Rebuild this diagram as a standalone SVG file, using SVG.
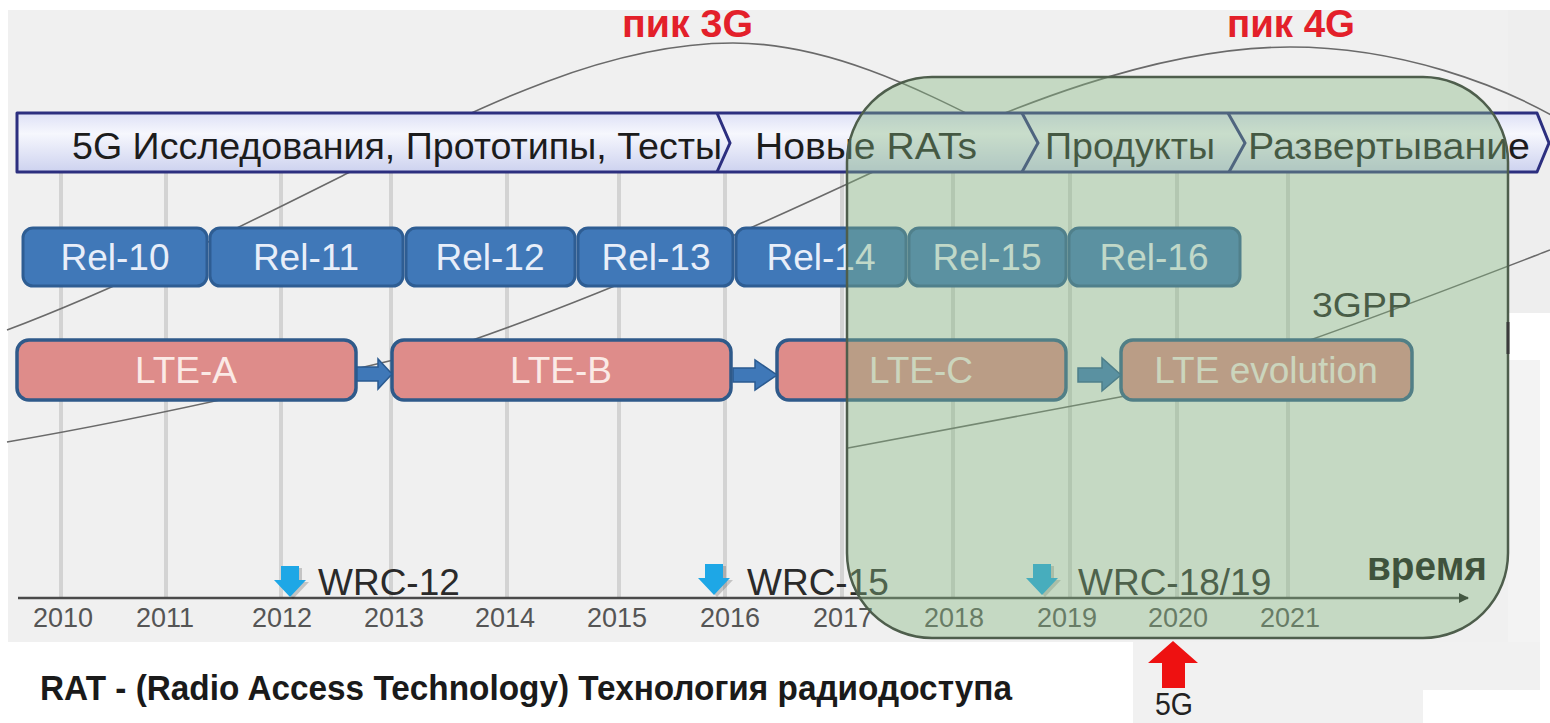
<svg xmlns="http://www.w3.org/2000/svg" width="1550" height="723" viewBox="0 0 1550 723">
  <defs>
    <linearGradient id="bannerFill" x1="0" y1="0" x2="0" y2="1">
      <stop offset="0" stop-color="#dde0f6"/>
      <stop offset="0.35" stop-color="#f6f7fd"/>
      <stop offset="1" stop-color="#cdd2ef"/>
    </linearGradient>
    <marker id="axisHead" markerWidth="10" markerHeight="10" refX="9" refY="5" orient="auto" markerUnits="userSpaceOnUse">
      <path d="M0,0 L10,5 L0,10 Z" fill="#1a1a1a"/>
    </marker>
  </defs>
  <style>
    .grid { stroke: #d3d3d3; stroke-width: 4; }
    .curve { fill: none; stroke: #6a6a6a; stroke-width: 1.6; }
    .rel rect { fill: #4078b8; stroke: #2e5d93; stroke-width: 3; }
    .rel text { font-family: "Liberation Sans", Arial, sans-serif; font-size: 37px; fill: #e8eef9; text-anchor: middle; }
    .lte rect { fill: #de8c8a; stroke: #2f5a8a; stroke-width: 3.5; }
    .lte text { font-family: "Liberation Sans", Arial, sans-serif; font-size: 37px; fill: #fbeae6; text-anchor: middle; }
    .block { fill: #3f78b8; stroke: #2a5a90; stroke-width: 1.5; }
    .phase { font-family: "Liberation Sans", Arial, sans-serif; font-size: 37px; fill: #1c1c1c; }
    .year { font-family: "Liberation Sans", Arial, sans-serif; font-size: 27px; fill: #555555; text-anchor: middle; }
    .wrc { font-family: "Liberation Sans", Arial, sans-serif; font-size: 37px; fill: #2a2a2a; }
    .peak { font-family: "Liberation Sans", Arial, sans-serif; font-size: 39px; font-weight: bold; fill: #e3202a; }
    .down { fill: #1ea7e6; }
    .shadow { fill: #000000; opacity: 0.18; }
  </style>

  <!-- canvas -->
  <rect x="0" y="0" width="1550" height="723" fill="#ffffff"/>
  <rect x="8" y="10" width="1500" height="632" fill="#f0f0f0"/>
  <rect x="1508" y="10" width="42" height="303" fill="#eeeeee"/>
  <rect x="1508" y="360" width="32" height="330" fill="#f3f3f3"/>
  <rect x="1133" y="642" width="407" height="48" fill="#f1f1f1"/>
  <rect x="1133" y="690" width="290" height="33" fill="#f1f1f1"/>

  <!-- year grid -->
  <g id="grid">
    <line class="grid" x1="61" y1="172" x2="61" y2="598"/>
    <line class="grid" x1="166" y1="172" x2="166" y2="598"/>
    <line class="grid" x1="281" y1="172" x2="281" y2="598"/>
    <line class="grid" x1="391" y1="172" x2="391" y2="598"/>
    <line class="grid" x1="507" y1="172" x2="507" y2="598"/>
    <line class="grid" x1="619" y1="172" x2="619" y2="598"/>
    <line class="grid" x1="725" y1="172" x2="725" y2="598"/>
    <line class="grid" x1="842" y1="172" x2="842" y2="598"/>
    <line class="grid" x1="953" y1="172" x2="953" y2="598"/>
    <line class="grid" x1="1070" y1="172" x2="1070" y2="598"/>
    <line class="grid" x1="1177" y1="172" x2="1177" y2="598"/>
    <line class="grid" x1="1288" y1="172" x2="1288" y2="598"/>
  </g>

  <!-- generation life-cycle curves -->
  <g id="curves">
    <path class="curve" d="M7,330 C121,287 236,229 350,172 C478,108 605,43 733,43 C833,43 930,95 1000,130"/>
    <path class="curve" d="M7,442 C160,416 330,376 467,342 C600,296 745,232 873,172 C1010,105 1160,47 1290,47 C1400,47 1500,85 1560,120"/>
    <path class="curve" d="M848,448 C950,428 1050,410 1120,397 C1220,378 1420,300 1550,250"/>
  </g>

  <!-- phase banner -->
  <g id="banner">
    <path d="M17,113 H1537 L1549,143 L1537,172 H17 Z" fill="url(#bannerFill)" stroke="#2c2f7f" stroke-width="3" stroke-linejoin="round"/>
    <path d="M717,113 L730,143 L717,172 M1022,113 L1038,143 L1022,172 M1228,113 L1245,143 L1229,172" fill="none" stroke="#2c2f7f" stroke-width="3"/>
    <text class="phase" x="72" y="159" textLength="650" lengthAdjust="spacingAndGlyphs">5G Исследования, Прототипы, Тесты</text>
    <text class="phase" x="755" y="159" textLength="222" lengthAdjust="spacingAndGlyphs">Новые RATs</text>
    <text class="phase" x="1045" y="159" textLength="170" lengthAdjust="spacingAndGlyphs">Продукты</text>
    <text class="phase" x="1248" y="159" textLength="282" lengthAdjust="spacingAndGlyphs">Развертывание</text>
  </g>

  <!-- 3GPP releases -->
  <g id="rel-10" class="rel"><rect x="23" y="228" width="184" height="58" rx="10"/><text x="115" y="270">Rel-10</text></g>
  <g id="rel-11" class="rel"><rect x="210" y="228" width="193" height="58" rx="10"/><text x="306" y="270">Rel-11</text></g>
  <g id="rel-12" class="rel"><rect x="406" y="228" width="169" height="58" rx="10"/><text x="490" y="270">Rel-12</text></g>
  <g id="rel-13" class="rel"><rect x="578" y="228" width="155" height="58" rx="10"/><text x="656" y="270">Rel-13</text></g>
  <g id="rel-14" class="rel"><rect x="736" y="228" width="170" height="58" rx="10"/><text x="821" y="270">Rel-14</text></g>
  <g id="rel-15" class="rel"><rect x="909" y="228" width="157" height="58" rx="10"/><text x="987" y="270">Rel-15</text></g>
  <g id="rel-16" class="rel"><rect x="1069" y="228" width="171" height="58" rx="10"/><text x="1154" y="270">Rel-16</text></g>

  <text id="label-3gpp" x="1312" y="317" font-family="Liberation Sans, Arial, sans-serif" font-size="35" fill="#222222" textLength="100" lengthAdjust="spacingAndGlyphs">3GPP</text>

  <!-- LTE stages -->
  <g id="lte-a" class="lte"><rect x="17" y="340" width="339" height="60" rx="12"/><text x="186" y="383">LTE-A</text></g>
  <g id="lte-b" class="lte"><rect x="392" y="340" width="339" height="60" rx="12"/><text x="561" y="383">LTE-B</text></g>
  <g id="lte-c" class="lte"><rect x="777" y="340" width="289" height="60" rx="12"/><text x="921" y="383">LTE-C</text></g>
  <g id="lte-evolution" class="lte"><rect x="1121" y="340" width="291" height="60" rx="12"/><text x="1266" y="383">LTE evolution</text></g>

  <!-- transitions between LTE stages -->
  <g id="connectors">
    <path class="block" d="M357,367 H378 V359 L392,374 L378,389 V381 H357 Z"/>
    <path class="block" d="M733,368 H755 V360 L777,375 L755,390 V382 H733 Z"/>
    <path class="block" d="M1078,368 H1102 V358 L1121,375 L1102,391 V382 H1078 Z"/>
  </g>

  <!-- time axis -->
  <g id="axis">
    <line x1="18" y1="598" x2="1468" y2="598" stroke="#4a4a4a" stroke-width="2.5" marker-end="url(#axisHead)"/>
    <text class="year" x="63" y="627">2010</text>
    <text class="year" x="165" y="627">2011</text>
    <text class="year" x="282" y="627">2012</text>
    <text class="year" x="394" y="627">2013</text>
    <text class="year" x="505" y="627">2014</text>
    <text class="year" x="617" y="627">2015</text>
    <text class="year" x="730" y="627">2016</text>
    <text class="year" x="843" y="627">2017</text>
    <text class="year" x="954" y="627">2018</text>
    <text class="year" x="1067" y="627">2019</text>
    <text class="year" x="1178" y="627">2020</text>
    <text class="year" x="1290" y="627">2021</text>
    <text x="1367" y="580" font-family="Liberation Sans, Arial, sans-serif" font-size="40" font-weight="bold" fill="#111111" textLength="120" lengthAdjust="spacingAndGlyphs">время</text>
  </g>

  <!-- WRC conferences -->
  <g id="wrc-12">
    <path class="shadow" d="M284,568 H302 V582 H309 L293,599 L277,582 H284 Z"/>
    <path class="down" d="M281,566 H299 V580 H306 L290,597 L274,580 H281 Z"/>
    <text class="wrc" x="318" y="595">WRC-12</text>
  </g>
  <g id="wrc-15">
    <path class="shadow" d="M708,566 H726 V580 H733 L717,597 L701,580 H708 Z"/>
    <path class="down" d="M705,564 H723 V578 H730 L714,595 L698,578 H705 Z"/>
    <text class="wrc" x="747" y="595">WRC-15</text>
  </g>
  <g id="wrc-18-19">
    <path class="shadow" d="M1036,566 H1054 V580 H1061 L1045,597 L1029,580 H1036 Z"/>
    <path class="down" d="M1033,564 H1051 V578 H1058 L1042,595 L1026,578 H1033 Z"/>
    <text class="wrc" x="1078" y="595">WRC-18/19</text>
  </g>

  <!-- generation peaks -->
  <text id="peak-3g" class="peak" x="622" y="37" textLength="131" lengthAdjust="spacingAndGlyphs">пик 3G</text>
  <text id="peak-4g" class="peak" x="1227" y="37" textLength="128" lengthAdjust="spacingAndGlyphs">пик 4G</text>

  <!-- 5G window -->
  <g id="window-5g">
    <rect x="847" y="77" width="661" height="561" rx="85" ry="85" fill="#85b780" fill-opacity="0.4" stroke="#4e5e4c" stroke-width="2.5"/>
    <line x1="1508" y1="322" x2="1508" y2="354" stroke="#3a3a3a" stroke-width="3"/>
  </g>

  <!-- 5G launch marker -->
  <g id="launch-5g">
    <path d="M1162,688 V663 H1148 L1173,641 L1198,663 H1185 V688 Z" fill="#ee1111"/>
    <text x="1155" y="715" font-family="Liberation Sans, Arial, sans-serif" font-size="32" fill="#222222" textLength="38" lengthAdjust="spacingAndGlyphs">5G</text>
  </g>

  <!-- footnote -->
  <text id="footnote" x="40" y="700" font-family="Liberation Sans, Arial, sans-serif" font-size="35" font-weight="bold" fill="#1a1a1a" textLength="972" lengthAdjust="spacingAndGlyphs">RAT - (Radio Access Technology) Технология радиодоступа</text>
</svg>
